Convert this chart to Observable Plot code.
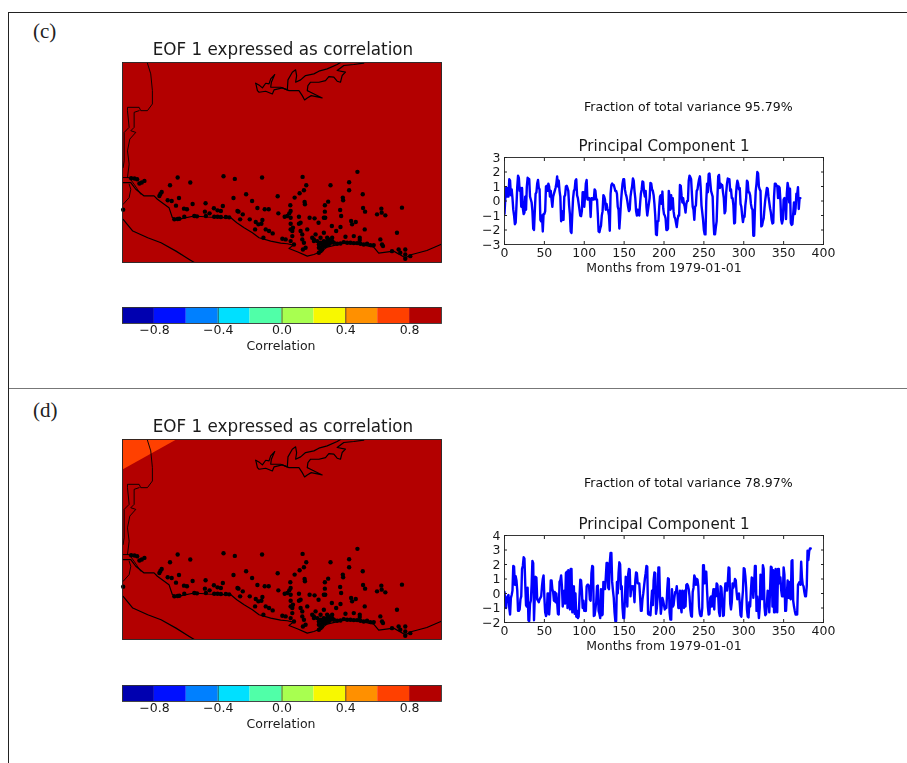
<!DOCTYPE html>
<html><head><meta charset="utf-8">
<script src="https://cdn.jsdelivr.net/npm/d3@7"></script>
<script src="https://cdn.jsdelivr.net/npm/@observablehq/plot@0.6"></script>
<style>
html,body{margin:0;padding:0;background:#fff;overflow:hidden}
#page{position:relative;width:907px;height:763px;font-family:"DejaVu Sans",sans-serif;color:#111}
#page>svg,#page>div{position:absolute}
#page>svg,.frac{filter:blur(0.55px)}
.rule{background:#222}
.rule2{background:#777}
.tag{font-family:"Liberation Serif",serif;font-size:21px;line-height:20px;color:#222}
.frac{font-size:12.55px;line-height:14px;white-space:nowrap}
</style></head><body><div id="page"></div>
<script>
// Principal component 1, monthly values
const pcC = [
-0.9,0.2,0.9,0.3,0.9,0.3,1.5,1.4,0.4,0.8,0.2,-0.6,
-1.0,-1.6,-1.5,-0.3,1.0,1.75,1.6,0.7,0.9,-0.4,0.9,-0.5,
-0.9,-0.8,0.3,-0.6,1.0,1.6,1.55,1.5,0.3,0.1,-0.1,-0.7,
-1.9,-2.0,-0.7,0.5,0.6,1.2,1.45,0.9,0.8,-1.3,-1.4,-1.0,
-2.1,-0.9,-0.9,-0.7,1.0,1.05,0.7,1.2,1.0,0.3,0.7,0.1,
-0.4,0.3,0.5,0.7,0.9,1.2,1.7,1.0,1.4,0.7,0.3,-1.4,
-0.7,-1.3,-1.3,0.3,0.4,1.0,1.05,0.9,0.7,-0.3,-0.9,-2.1,
-2.2,-0.9,0.2,0.7,0.8,1.4,1.5,0.4,0.2,-0.2,-0.6,-1.0,
-1.05,-0.7,0.6,0.6,-0.4,0.3,1.2,1.45,0.1,0.1,0.2,0.1,
-1.1,0.2,0.2,0.1,0.1,0.8,0.7,0.1,0.1,-0.9,-2.1,-2.15,
-1.9,-1.7,-1.0,-0.7,0.4,0.3,0.1,-0.6,-0.2,-0.5,-0.7,-1.0,
-2.05,0.5,1.1,1.2,1.1,1.1,0.9,0.7,0.7,0.5,-0.4,-0.6,
-1.9,-1.1,-0.1,0.6,1.2,1.5,1.5,0.8,0.5,0.3,0.0,-0.4,
-0.7,-0.6,0.3,0.7,1.0,1.55,1.4,0.7,0.2,-0.7,-1.0,-0.6,
-0.9,-1.0,-0.2,0.5,0.8,1.35,1.3,0.6,0.3,0.7,-0.4,-1.0,
-0.6,-0.2,0.2,1.25,1.2,0.8,0.7,0.4,-0.2,-1.0,-2.3,-2.35,
-1.4,-1.4,-0.4,0.3,0.4,-0.2,0.65,-0.5,-0.9,-1.0,-1.2,-2.0,
-2.0,-1.9,0.7,0.3,-0.6,0.4,-0.5,0.2,-0.7,-1.1,-1.2,-1.5,
-1.8,-1.3,-1.0,-1.0,1.1,1.05,0.4,-0.1,0.2,-0.2,-0.4,-0.8,
-0.2,0.0,0.0,1.4,1.75,1.65,1.5,0.5,-0.4,-0.6,-1.3,-0.4,
-0.3,0.7,0.8,1.2,1.5,1.7,0.9,-0.3,-0.8,-1.3,-2.0,-2.3,
-2.3,0.0,1.2,0.6,1.85,1.9,1.3,0.7,0.5,0.3,-1.4,-2.3,
-2.3,-1.8,-1.4,0.3,1.7,1.8,0.9,1.2,1.0,1.1,0.6,0.2,
-0.85,-0.7,0.6,1.2,1.55,1.5,1.5,0.7,0.8,0.2,0.2,-0.3,
-1.55,-1.5,0.2,1.0,1.4,1.2,0.8,0.9,-0.2,-0.4,-1.0,-1.45,
-1.1,-1.1,-0.3,0.2,1.4,1.3,0.6,0.6,0.4,-0.2,-0.5,-0.6,
-2.4,-2.4,-0.6,0.7,1.2,2.0,1.9,1.0,0.8,0.7,-1.75,-1.7,
-1.4,-1.2,-0.5,0.1,0.5,0.9,0.85,0.3,-0.1,-0.5,-0.8,-1.3,
-1.55,-1.5,0.3,1.2,1.2,1.05,1.05,0.2,1.0,0.9,0.0,-1.3,
-1.55,-1.3,0.1,0.2,0.0,-1.25,0.5,1.25,0.9,-0.1,0.85,-1.5,
-1.65,-1.6,-0.9,-0.1,-0.9,-0.5,0.5,0.45,0.95,-0.55,0.2,0.2];
const pcD = [
0.1,-0.5,-1.0,-0.3,-0.2,-0.1,-1.0,-1.45,-0.3,-0.1,0.2,1.9,
1.85,0.6,1.2,0.9,0.2,-1.2,-1.2,-1.1,-0.4,-0.2,1.7,1.9,
2.5,2.4,0.7,-0.8,-0.9,0.4,-1.85,-1.9,-0.7,-0.5,0.6,2.25,
2.1,-1.85,-0.2,1.15,1.1,-0.4,-0.5,-0.6,-0.4,-0.3,-0.2,0.5,
1.0,1.25,-0.3,-1.3,-1.55,-1.4,0.0,0.0,-1.45,-0.6,0.9,0.9,
0.3,0.1,-0.5,0.1,-0.6,0.0,-0.6,-1.4,-1.45,0.8,0.9,1.25,
0.5,-0.9,-0.3,0.2,-0.7,1.4,1.5,-1.0,1.6,0.4,-1.1,1.7,
1.7,-1.3,0.4,0.5,-1.4,0.0,-1.6,-1.2,-1.7,-1.6,-0.3,0.95,
0.9,0.2,-1.0,-0.5,-1.2,-1.0,-1.2,0.5,0.6,0.6,0.5,-0.4,
-0.5,1.4,1.9,1.85,-1.55,-1.5,-1.1,-0.6,0.5,0.55,-1.2,-1.4,
-1.7,0.3,-1.5,-1.45,0.8,0.7,0.3,1.1,2.1,2.1,0.4,0.3,
2.1,2.8,2.8,0.8,0.2,-0.3,-1.3,-1.9,-1.9,0.8,0.0,1.4,
2.15,2.0,0.3,0.5,-1.0,-1.7,-1.7,-0.4,1.15,1.1,-0.9,1.3,
1.7,1.65,-0.2,0.5,0.3,0.5,0.2,-0.6,0.9,1.45,1.4,0.7,
0.7,0.7,-0.2,-1.2,-1.2,-0.4,0.0,0.5,1.0,1.4,1.9,1.85,
-1.4,-1.45,-1.3,-1.5,-0.6,0.2,-0.8,0.9,1.45,1.4,-1.4,-1.0,
-0.2,1.8,1.8,-0.3,-1.4,-0.9,-0.3,-0.5,-0.8,-1.1,-0.9,-1.0,
0.2,1.05,1.0,-1.3,-1.8,-1.8,0.3,-0.9,-0.8,-0.3,0.1,0.1,
0.5,-0.1,-1.0,-1.0,0.2,-0.9,-1.3,0.2,-0.2,-1.0,0.2,-0.9,
0.6,0.65,0.55,0.3,-0.2,-1.1,-1.55,-1.6,0.1,0.4,1.25,1.1,
0.6,1.0,0.95,0.5,-0.9,-1.4,-1.55,-1.55,-1.0,1.95,1.95,0.7,
1.5,1.5,0.2,-0.9,-1.45,-1.4,-0.3,-0.2,-0.9,-0.2,0.3,-1.1,
0.3,-0.2,0.7,0.6,-0.2,-1.3,-1.55,0.5,0.4,-0.6,-1.55,-1.5,
0.0,0.7,0.7,0.2,0.8,1.8,1.75,-0.7,-1.1,-0.6,0.7,0.4,
0.6,1.0,0.9,0.1,-0.4,-0.2,0.0,-0.7,-1.5,-1.6,-0.5,0.2,
1.75,1.7,1.2,0.4,-1.1,-1.6,-1.65,-0.6,-0.9,0.2,1.1,1.05,
-0.3,0.5,1.9,1.9,-1.2,-0.2,-1.0,-1.7,-1.0,1.3,0.9,-0.4,
1.95,1.7,-0.9,-1.5,-1.4,-0.7,0.2,0.1,-1.3,0.3,1.85,1.8,
-0.9,1.6,-1.3,-1.3,1.7,-0.4,-1.3,1.7,1.7,0.7,1.1,0.2,
-0.2,-0.2,1.8,1.3,-1.2,-1.2,-0.1,0.9,-0.3,0.8,-0.3,-0.4,
2.25,2.3,-0.5,-0.9,-1.2,-1.45,-1.4,-1.45,0.6,0.7,0.8,0.6,
2.2,1.1,0.6,0.5,0.1,-0.2,-0.2,0.5,2.95,2.3,2.9,3.1,3.1];

// Colour bar
const levelEdges = [-1,-0.8,-0.6,-0.4,-0.2,0,0.2,0.4,0.6,0.8,1];
const levelColors = ["#0000b0","#0010ff","#0080ff","#00e0ff","#50ffa8","#a8ff50","#f8f800","#ff9000","#ff4000","#b30000"];
const barTicks = [-0.8,-0.4,0,0.4,0.8];

// Map features, in map grid units
const coast = [[36,425],[59,425],[74,445],[99,465],[129,465],[139,475],[174,500],[184,530],[204,535],[215,532],[250,525],[290,528],[330,530],[360,530],[378,545],[400,560],[425,575],[445,590],[480,600],[510,606],[530,608],[548,612],[535,622],[560,632],[590,645],[610,640],[630,632],[650,618],[700,606],[750,610],[790,618],[805,636],[850,630],[885,650],[905,640],[950,628],[992,610]];
const southCoast = [[36,535],[65,570],[110,590],[150,605],[195,630],[235,655],[250,664]];
const westBorderA = [[109,68],[119,100],[124,150],[124,190],[109,210],[89,210],[84,200],[49,200],[49,210],[54,260],[39,275],[39,360],[36,380]];
const westBorderB = [[84,210],[69,215],[69,260],[59,270],[74,275],[56,295],[49,330],[54,370],[49,410]];
const delta = [[36,410],[54,410],[69,430],[89,460]];
const bay = [[36,490],[54,470],[59,445],[54,430]];
const lakeSouth = [[435,128],[440,150],[445,155],[465,152],[485,160],[490,148],[515,142],[535,150],[565,150],[575,165],[582,178],[590,172],[602,165],[635,172],[600,155],[590,150],[592,135],[600,125],[625,125],[645,120],[655,108],[670,110],[680,122],[690,125],[695,105],[705,95],[680,90],[700,75],[730,72],[760,68]];
const lakeNorth = [[435,128],[447,135],[455,142],[465,128],[475,130],[480,115],[492,102],[482,125],[480,140],[510,140],[530,148],[532,118],[545,95],[555,88],[558,105],[555,125],[570,118],[585,105],[610,100],[625,92],[650,85],[680,72],[690,66]];
const stations = [[200,410],[177,433],[238,425],[338,406],[372,414],[454,410],[576,408],[587,433],[580,448],[567,457],[552,470],[660,433],[716,424],[716,448],[741,393],[757,460],[406,460],[368,471],[501,466],[697,470],[698,478],[653,482],[643,493],[643,512],[644,530],[152,453],[148,459],[145,465],[204,471],[170,478],[182,480],[195,494],[245,489],[219,503],[228,505],[284,487],[309,502],[336,495],[320,508],[330,510],[282,512],[296,517],[424,480],[440,501],[462,505],[474,505],[380,510],[383,512],[396,520],[388,535],[417,535],[435,543],[443,550],[455,537],[452,548],[433,565],[465,565],[475,570],[486,577],[458,590],[503,517],[522,527],[530,525],[536,517],[539,493],[540,510],[540,530],[540,548],[582,483],[583,490],[565,527],[565,548],[570,545],[597,530],[612,532],[624,545],[640,530],[664,555],[692,525],[689,507],[722,540],[736,543],[725,550],[677,570],[690,558],[763,565],[758,501],[764,512],[800,520],[813,503],[814,515],[825,523],[875,500],[860,575],[810,595],[815,610],[818,615],[570,570],[575,580],[575,595],[580,605],[590,565],[585,620],[577,625],[540,565],[545,570],[545,585],[515,593],[525,595],[540,600],[550,610],[547,560],[730,585],[748,590],[748,597],[705,587],[640,575],[630,590],[615,580],[610,600],[620,600],[625,635],[630,630],[625,620],[635,625],[640,615],[645,605],[650,600],[655,595],[640,600],[650,610],[660,605],[665,600],[670,605],[680,608],[690,607],[700,603],[710,605],[720,605],[730,606],[740,606],[750,608],[760,610],[770,608],[780,612],[790,612],[845,630],[865,625],[885,625],[870,635],[885,640],[900,645],[885,653],[60,412],[70,413],[78,415],[100,420],[92,425],[85,428],[36,506],[190,535],[200,534],[205,533],[220,527],[250,525],[258,526],[285,525],[310,527],[320,527],[330,528],[345,528],[355,529],[630,620],[635,610],[645,615],[655,610],[630,605],[625,610],[610,595],[605,590],[650,590],[665,590]];
// Lower-correlation corner of panel (d)
const cornerX = [34,200];
const cornerY1 = [66,66];
const cornerY2 = [158,66];

const page = document.getElementById("page");
const add = (el, left, top) => { el.style.left = left + "px"; el.style.top = top + "px"; page.appendChild(el); };
const box = (cls, left, top, w, h, text) => {
  const d = document.createElement("div"); d.className = cls;
  d.style.width = w ? w + "px" : ""; d.style.height = h ? h + "px" : "";
  if (text) d.textContent = text;
  add(d, left, top);
};
const ink = "#1a1a1a";
const noLabel = () => "";

function mapPanel(top, withCorner) {
  const lines = [coast, southCoast, lakeSouth, lakeNorth].map(l =>
    Plot.line(l, {x: d => d[0], y: d => d[1], stroke: "#000", strokeWidth: 1.2, clip: true}));
  const thin = [westBorderA, westBorderB, delta, bay].map(l =>
    Plot.line(l, {x: d => d[0], y: d => d[1], stroke: "#000", strokeWidth: 0.9, clip: true}));
  const p = Plot.plot({
    width: 340, height: 240,
    marginLeft: 10, marginRight: 11, marginTop: 30, marginBottom: 10,
    style: {background: "transparent", fontFamily: "DejaVu Sans"},
    x: {domain: [34, 994], axis: null},
    y: {domain: [664, 66], axis: null},
    marks: [
      Plot.frame({fill: "#b30000"}),
      withCorner ? Plot.areaY(cornerX, {x: d => d, y1: (d, i) => cornerY1[i], y2: (d, i) => cornerY2[i], fill: "#ff4000"}) : null,
      ...lines, ...thin,
      Plot.dot(stations, {x: d => d[0], y: d => d[1], r: 2.2, fill: "#000"}),
      Plot.frame({stroke: "#222", strokeWidth: 0.9}),
      Plot.text(["EOF 1 expressed as correlation"], {frameAnchor: "top", dy: -19, dx: 1, fontSize: 16.8, fill: ink})
    ]
  });
  p.style.overflow = "visible";
  add(p, 112, top - 30);
}

function colorBar(top) {
  const levels = levelColors.map((c, i) => ({x1: levelEdges[i], x2: levelEdges[i + 1], c}));
  const p = Plot.plot({
    width: 340, height: 56,
    marginLeft: 10, marginRight: 11, marginTop: 0, marginBottom: 40,
    style: {background: "transparent", fontFamily: "DejaVu Sans", fontSize: "12.5px"},
    x: {domain: [-1, 1]},
    y: {domain: [0, 1], axis: null},
    marks: [
      Plot.rectY(levels, {x1: "x1", x2: "x2", y1: 0, y2: 1, fill: d => d.c}),
      Plot.ruleX(barTicks.slice(1, -1), {stroke: "#222", strokeWidth: 0.7}),
      Plot.frame({stroke: "#333", strokeWidth: 0.9}),
      Plot.axisX(barTicks, {anchor: "bottom", tickSize: 0, tickPadding: 2, label: null, fill: ink, tickFormat: d => d3.format(".1f")(d).replace("-", "\u2212")}),
      Plot.text(["Correlation"], {frameAnchor: "bottom", dy: 26, dx: -1, fontSize: 12.5, fill: ink})
    ]
  });
  p.style.overflow = "visible";
  add(p, 112, top);
}

function pcPanel(top, values, yDomain, yTicks) {
  const xTicks = d3.range(0, 401, 50);
  const p = Plot.plot({
    width: 370, height: 160,
    marginLeft: 30, marginRight: 21, marginTop: 30, marginBottom: 43,
    style: {background: "transparent", fontFamily: "DejaVu Sans", fontSize: "12.5px"},
    x: {domain: [0, 400]},
    y: {domain: yDomain},
    marks: [
      Plot.lineY(values, {x: (d, i) => i, y: d => d, stroke: "#0000ff", strokeWidth: 2.4, strokeLinejoin: "round", clip: true}),
      Plot.frame({stroke: "#222", strokeWidth: 0.9}),
      Plot.axisX(xTicks, {anchor: "bottom", tickSize: -3, tickPadding: 7, label: null, stroke: "#222", fill: ink}),
      Plot.axisX(xTicks, {anchor: "top", tickSize: -3, tickFormat: noLabel, label: null, stroke: "#222"}),
      Plot.axisY(yTicks, {anchor: "left", tickSize: -3, tickPadding: 7, label: null, stroke: "#222", fill: ink, tickFormat: d => String(d).replace("-", "\u2212")}),
      Plot.axisY(yTicks, {anchor: "right", tickSize: -3, tickFormat: noLabel, label: null, stroke: "#222"}),
      Plot.text(["Principal Component 1"], {frameAnchor: "top", dy: -17, fontSize: 15.1, fill: ink}),
      Plot.text(["Months from 1979-01-01"], {frameAnchor: "bottom", dy: 27, fontSize: 12.5, fill: ink})
    ]
  });
  p.style.overflow = "visible";
  add(p, 474, top - 30);
}

box("rule", 8, 12, 899, 1);
box("rule2", 8, 388, 899, 1);
box("rule", 8, 12, 1, 751);
box("tag", 33, 21, 0, 0, "(c)");
box("tag", 33, 400, 0, 0, "(d)");
box("frac", 584, 100, 0, 0, "Fraction of total variance 95.79%");
box("frac", 584, 476, 0, 0, "Fraction of total variance 78.97%");

mapPanel(62, false);
colorBar(307);
pcPanel(157, pcC, [-3, 3], [-3,-2,-1,0,1,2,3]);

mapPanel(439, true);
colorBar(685);
pcPanel(535, pcD, [-2, 4], [-2,-1,0,1,2,3,4]);
</script></body></html>
